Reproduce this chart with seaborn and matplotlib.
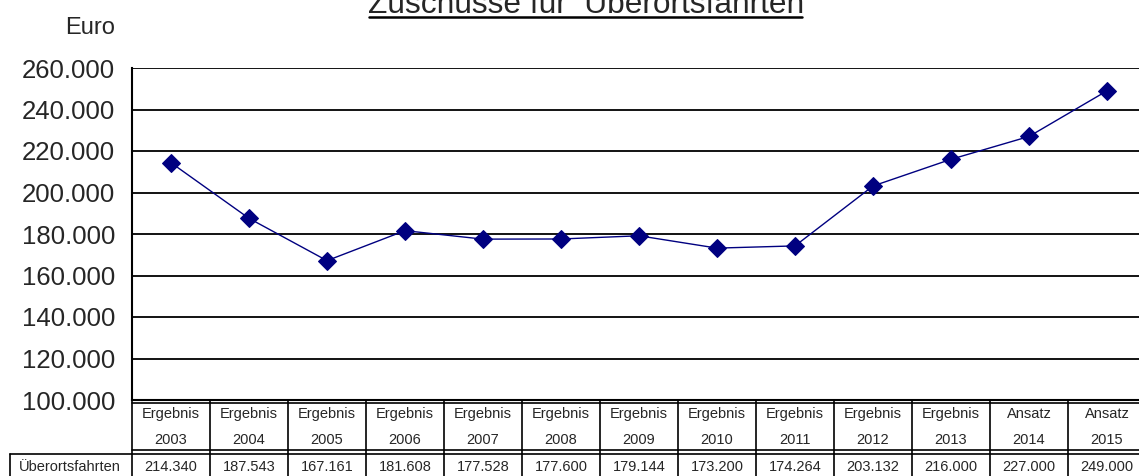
import numpy as np
import pandas as pd
import seaborn as sns
import matplotlib.pyplot as plt
from matplotlib.lines import Line2D

# Daten
status = ["Ergebnis"] * 11 + ["Ansatz", "Ansatz"]
jahre = ["2003", "2004", "2005", "2006", "2007", "2008", "2009",
         "2010", "2011", "2012", "2013", "2014", "2015"]
werte = [214340, 187543, 167161, 181608, 177528, 177600, 179144,
         173200, 174264, 203132, 216000, 227000, 249000]
reihe = "Überortsfahrten"
titel = "Zuschüsse für  Überortsfahrten"

df = pd.DataFrame({"idx": np.arange(len(jahre)), "wert": werte})

sns.set_style("white")
plt.rcParams['font.family'] = ['Liberation Sans', 'DejaVu Sans']

W, H = 1139, 476
fig = plt.figure(figsize=(W / 100, H / 100), dpi=100)

def fx(x):
    return x / W

def fy(y):
    return 1 - y / H

# Plotbereich (Pixelangaben von oben links)
left, right, top, bottom = 132, 1146, 68, 400
ax = fig.add_axes([fx(left), fy(bottom), fx(right - left), (bottom - top) / H])

sns.lineplot(data=df, x="idx", y="wert", ax=ax, color="#000080", linewidth=1,
             marker="D", markersize=9, markeredgecolor="#000080")

ax.set_xlim(-0.5, len(jahre) - 0.5)
ax.set_ylim(100000, 260000)
ticks = np.arange(100000, 260001, 20000)
ax.set_yticks(ticks)
ax.set_yticklabels([f"{t:,}".replace(",", ".") for t in ticks], fontsize=18.5)
ax.set_xticks([])
ax.set_xlabel("")
ax.set_ylabel("")
for t in ticks:
    ax.axhline(t, color="black", linewidth=1.3, zorder=0)
for s in ["top", "right"]:
    ax.spines[s].set_visible(False)
ax.spines["left"].set_color("black")
ax.spines["left"].set_linewidth(1.5)
ax.spines["bottom"].set_color("black")
ax.spines["bottom"].set_linewidth(1.5)
ax.tick_params(axis="y", direction="out", length=8, width=1.3, color="black", pad=4)

# Beschriftungen oben
fig.text(fx(65), fy(28), "Euro", fontsize=17, va="center", ha="left")
fig.text(fx(586), fy(13), titel, fontsize=22.8, ha="center", va="baseline")
fig.add_artist(Line2D([fx(369), fx(802)], [fy(17), fy(17)], color="black", linewidth=1.8))

# Datentabelle
col_w = (right - left) / len(jahre)
lw = 1.2
def hline(x0, x1, y):
    fig.add_artist(Line2D([fx(x0), fx(x1)], [fy(y), fy(y)], color="black", linewidth=lw))

def vline(x, y0, y1):
    fig.add_artist(Line2D([fx(x), fx(x)], [fy(y0), fy(y1)], color="black", linewidth=lw))

hline(left, right, 403)
hline(left, right, 450)
hline(10, right, 454)
hline(10, right, 478)
for k in range(len(jahre) + 1):
    vline(left + k * col_w, 400, 478)
vline(10, 454, 478)

fs = 10.5
for i, (s, j, w) in enumerate(zip(status, jahre, werte)):
    cx = left + (i + 0.5) * col_w
    fig.text(fx(cx), fy(414), s, fontsize=fs, ha="center", va="center")
    fig.text(fx(cx), fy(440), j, fontsize=fs, ha="center", va="center")
    fig.text(fx(cx), fy(467), f"{w:,}".replace(",", "."), fontsize=fs,
             ha="center", va="center")
fig.text(fx(70), fy(467), reihe, fontsize=fs, ha="center", va="center")

fig.savefig("out.png", dpi=100)
